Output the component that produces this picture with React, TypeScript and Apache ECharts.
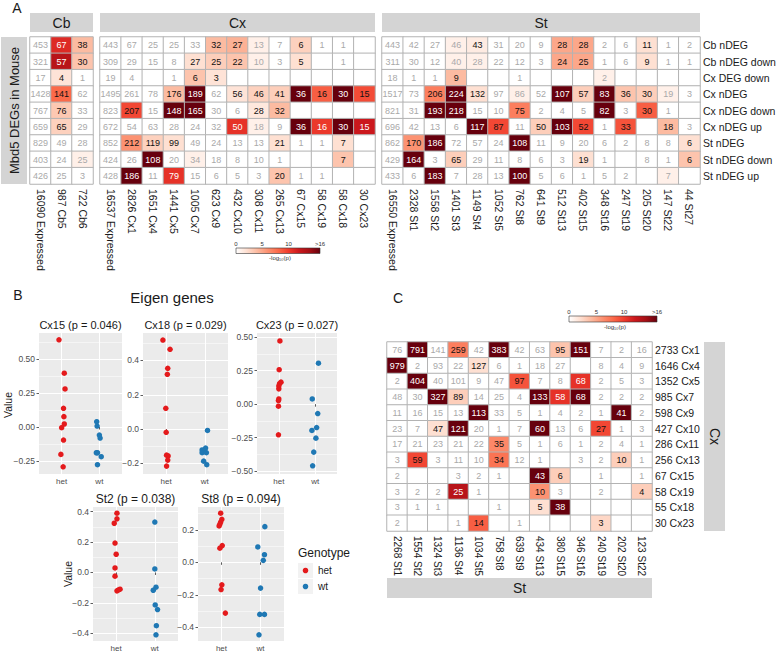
import React, { useEffect, useRef } from 'react';
import * as echarts from 'echarts';

const FONT = "'Liberation Sans', Arial, Helvetica, sans-serif";
const N = null;

// ---------- Panel A ----------
const rowsA = ['Cb nDEG', 'Cb nDEG down', 'Cx DEG down', 'Cx nDEG', 'Cx nDEG down', 'Cx nDEG up', 'St nDEG', 'St nDEG down', 'St nDEG up'];
const colsCb = ['16090 Expressed', '987 Cb5', '722 Cb6'];
const colsCx = ['16537 Expressed', '2826 Cx1', '1651 Cx4', '1441 Cx5', '1005 Cx7', '623 Cx9', '432 Cx10', '308 Cx11', '265 Cx13', '67 Cx15', '58 Cx19', '58 Cx18', '30 Cx23'];
const colsSt = ['16550 Expressed', '2328 St1', '1558 St2', '1401 St3', '1149 St4', '1052 St5', '762 St8', '641 St9', '512 St13', '402 St15', '348 St16', '247 St19', '205 St20', '147 St22', '44 St27'];

const countsCb = [
  [453, 67, 38], [321, 57, 30], [17, 4, 1], [1428, 141, 62], [767, 76, 33],
  [659, 65, 29], [829, 49, 28], [403, 24, 25], [426, 25, 3],
];
const levelsCb = [
  [0, 11, 4], [0, 13, 3.5], [0, 1.8, 0], [0, 8, 0], [0, 3.3, 0],
  [0, 2.8, 0], [0, 0, 0], [0, 0, 1], [0, 0, 0],
];
const countsCx = [
  [443, 67, 25, 25, 33, 32, 27, 13, 7, 6, 1, 1, N],
  [309, 29, 15, 8, 27, 25, 22, 10, 3, 5, N, 1, N],
  [19, 4, N, 1, 6, 3, N, N, N, N, N, N, N],
  [1495, 261, 78, 176, 189, 62, 56, 46, 41, 36, 16, 30, 15],
  [823, 207, 15, 148, 165, 30, 6, 28, 32, N, N, N, N],
  [672, 54, 63, 28, 24, 32, 50, 18, 9, 36, 16, 30, 15],
  [852, 212, 119, 99, 49, 24, 13, 13, 21, 1, 1, 7, N],
  [424, 26, 108, 20, 34, 18, 8, 10, 1, N, N, 7, N],
  [428, 186, 11, 79, 15, 6, 5, 3, 20, 1, 1, N, N],
];
const levelsCx = [
  [0, 0, 0, 0, 0, 4, 4.5, 1, 0, 2.8, 0, 0, 0],
  [0, 0, 0, 0, 2, 3, 3.5, 1, 0, 2, 0, 0, 0],
  [0, 0, 0, 0, 3.5, 1.8, 0, 0, 0, 0, 0, 0, 0],
  [0, 0, 0, 4, 16, 0, 1.8, 2.8, 3, 16, 8.5, 16, 9.3],
  [0, 9.5, 0, 16, 16, 0, 0, 1.5, 4, 0, 0, 0, 0],
  [0, 0, 0, 0, 0, 0, 10.5, 1, 0, 16, 10.2, 16, 12],
  [0, 6, 2.8, 2, 0, 0, 0, 0, 2, 0, 0, 2, 0],
  [0, 0, 16, 0, 1, 0, 0, 0, 0, 0, 0, 3.5, 0],
  [0, 16, 0, 10.5, 0, 0, 0, 0, 3.5, 0, 0, 0, 0],
];
const countsSt = [
  [443, 42, 27, 46, 43, 31, 20, 9, 28, 28, 2, 6, 11, 1, 2],
  [311, 30, 12, 40, 28, 22, 12, 3, 24, 25, 1, 6, 9, 1, 1],
  [18, 1, 1, 9, N, N, 1, N, N, N, 2, N, N, N, N],
  [1517, 73, 206, 224, 132, 97, 86, 52, 107, 57, 83, 36, 30, 19, 3],
  [821, 31, 193, 218, 15, 10, 75, 2, 4, 5, 82, 3, 30, 1, N],
  [696, 42, 13, 6, 117, 87, 11, 50, 103, 52, 1, 33, N, 18, 3],
  [862, 170, 186, 72, 57, 24, 108, 11, 9, 20, 6, 2, 8, 8, 6],
  [429, 164, 3, 65, 29, 11, 8, 6, 3, 19, 1, N, 8, 1, 6],
  [433, 6, 183, 7, 28, 13, 100, 5, 6, 1, 5, 2, N, 7, N],
];
const levelsSt = [
  [0, 0, 0, 1, 1.3, 0, 0, 0, 5, 5, 0, 0, 2, 0, 0],
  [0, 0, 0, 1, 1, 0, 0, 0, 5, 5, 0, 0, 2, 0, 0],
  [0, 0, 0, 4, 0, 0, 0, 0, 0, 0, 1, 0, 0, 0, 0],
  [0, 0, 7, 16, 2, 0, 1, 0, 16, 3, 16, 3.5, 3, 1, 0],
  [0, 0, 16, 16, 0, 0, 7, 0, 0, 0, 16, 0, 8.5, 0, 0],
  [0, 0, 0, 0, 16, 9.5, 0, 3, 16, 9.5, 0, 9, 0, 4, 0],
  [0, 6, 16, 0, 0, 0, 16, 0, 0, 0, 0, 0, 0, 0, 2],
  [0, 16, 0, 3, 0, 0, 0, 0, 0, 2, 0, 0, 0, 0, 3.5],
  [0, 0, 16, 0, 0, 0, 16, 0, 0, 0, 0, 0, 0, 1, 0],
];

// ---------- Panel C ----------
const rowsC = ['2733 Cx1', '1646 Cx4', '1352 Cx5', '985 Cx7', '598 Cx9', '427 Cx10', '286 Cx11', '256 Cx13', '67 Cx15', '58 Cx19', '55 Cx18', '30 Cx23'];
const colsC = ['2268 St1', '1554 St2', '1324 St3', '1136 St4', '1034 St5', '758 St8', '639 St9', '434 St13', '380 St15', '346 St16', '240 St19', '202 St20', '123 St22'];
const countsC = [
  [76, 791, 141, 259, 42, 383, 42, 63, 95, 151, 7, 2, 16],
  [979, 2, 93, 22, 127, 6, 1, 18, 27, N, 8, 4, 9],
  [2, 404, 40, 101, 9, 47, 97, 7, 8, 68, 2, 5, 3],
  [48, 30, 327, 89, 14, 25, 4, 133, 58, 68, 2, 2, 2],
  [11, 16, 15, 13, 113, 33, 5, 1, 4, 2, 1, 41, 2],
  [23, 7, 47, 121, 20, 1, 7, 60, 13, 6, 27, 1, 3],
  [17, 21, 23, 21, 22, 35, 5, 1, 6, 1, 2, 4, 1],
  [3, 59, 3, 11, 10, 34, 12, 1, N, 3, 2, 10, 1],
  [2, N, N, 3, 2, 1, N, 43, 6, N, 1, N, 1],
  [3, 2, 2, 25, 1, N, N, 10, 3, N, 2, N, 4],
  [3, 1, 1, N, N, 1, N, 5, 38, N, N, N, N],
  [2, N, N, 1, 14, N, 1, N, N, N, 3, N, N],
];
const levelsC = [
  [0, 16, 0, 7, 0, 16, 0, 0, 3.5, 16, 0, 0, 0],
  [16, 0, 0, 0, 2, 0, 0, 0, 0, 0, 0, 0, 0],
  [0, 16, 0, 0, 0, 0, 9, 0, 0, 10.5, 0, 0, 0],
  [0, 0, 16, 3, 0, 0, 0, 16, 10.5, 16, 0, 0, 0],
  [0, 0, 0, 0, 16, 0, 0, 0, 0, 0, 0, 16, 0],
  [0, 0, 2, 16, 0, 0, 0, 16, 0, 0, 9.5, 0, 0],
  [0, 0, 0, 0, 0, 6.5, 0, 0, 0, 0, 0, 0, 0],
  [0, 9.5, 0, 0, 0, 7.5, 0, 0, 0, 0, 0, 3, 0],
  [0, 0, 0, 0, 0, 0, 0, 16, 3, 0, 0, 0, 0],
  [0, 0, 0, 13, 0, 0, 0, 6, 0, 0, 0, 0, 3],
  [0, 0, 0, 0, 0, 0, 0, 2, 16, 0, 0, 0, 0],
  [0, 0, 0, 0, 8.5, 0, 0, 0, 0, 0, 2.5, 0, 0],
];

const scaleTicks = ['0', '5', '10', '>16'];
const scaleTickVals = [0, 5, 10, 16];

// ---------- Panel B (eigen genes) ----------
const genotypes = ['het', 'wt'];
const cx15Het = [0.64, 0.395, 0.279, 0.137, 0.076, 0.022, -0.005, -0.096, -0.201, -0.292];
const cx15HetJit = [-0.07, 0.07, 0.09, 0.05, 0.06, 0.07, 0, 0.05, -0.02, 0.04];
const cx15Wt = [0.039, 0.007, -0.059, -0.081, -0.189, -0.189, -0.218, -0.277];
const cx15WtJit = [-0.07, -0.06, 0, 0.02, -0.08, -0.05, 0.05, -0.05];
const cx15Ticks = [-0.25, 0, 0.25, 0.5];

const cx18Het = [0.519, 0.465, 0.354, 0.319, 0.121, -0.019, -0.152, -0.157, -0.181, -0.216];
const cx18HetJit = [-0.085, 0.1, 0.04, 0.03, -0.01, 0, 0.01, 0.05, 0.04, 0.01];
const cx18Wt = [-0.008, -0.111, -0.122, -0.13, -0.138, -0.138, -0.187, -0.208];
const cx18WtJit = [0.07, 0.02, -0.07, -0.03, -0.07, 0.04, -0.03, 0.05];
const cx18Ticks = [-0.2, 0, 0.2, 0.4];

const cx23Het = [0.471, 0.257, 0.164, 0.153, 0.136, 0.114, 0.039, 0.027, -0.015, -0.228];
const cx23HetJit = [0.03, 0.01, 0.06, 0.02, 0, 0, 0, -0.01, -0.01, -0.01];
const cx23Wt = [0.305, 0.039, -0.07, -0.196, -0.174, -0.253, -0.357, -0.459];
const cx23WtJit = [0.09, -0.08, 0.07, -0.09, 0.04, 0.02, -0.04, -0.07];
const cx23Ticks = [-0.5, -0.25, 0, 0.25, 0.5];

const st2Het = [0.39, 0.353, 0.324, 0.194, 0.12, 0.03, -0.024, -0.121, -0.115, -0.11];
const st2HetJit = [0.02, 0.02, -0.05, -0.03, 0, -0.03, -0.03, 0.02, 0.06, 0.1];
const st2Wt = [0.332, 0.023, -0.097, -0.117, -0.214, -0.244, -0.35, -0.41];
const st2WtJit = [0, 0, 0.03, -0.04, 0.01, 0.07, 0.04, 0.03];
const st2Ticks = [-0.4, -0.2, 0, 0.2, 0.4];

const st8Het = [0.303, 0.265, 0.248, 0.236, 0.224, 0.103, 0.087, -0.139, -0.168, -0.313];
const st8HetJit = [-0.02, 0.01, -0.02, -0.04, -0.06, 0.02, -0.04, 0.01, -0.01, 0.1];
const st8Wt = [0.22, 0.095, 0.047, 0.012, -0.159, -0.321, -0.321, -0.447];
const st8WtJit = [0.11, -0.07, 0.1, 0.07, 0, -0.02, 0.1, -0.04];
const st8Ticks = [-0.4, -0.2, 0, 0.2];

const plotTitles = ['Cx15 (p = 0.046)', 'Cx18 (p = 0.029)', 'Cx23 (p = 0.027)', 'St2 (p = 0.038)', 'St8 (p = 0.094)'];

// ---------- styles ----------
const REDS = ['#ffffff', '#fee0d2', '#fcbba1', '#fc9272', '#fb6a4a', '#ef3b2c', '#cb181d', '#a50f15', '#67000d'];
const HET = '#e41a1c';
const WT = '#1f78b4';
const STRIP = '#d4d4d4';
const PANEL = '#ebebeb';
const INK = '#1a1a1a';

function heatSeries(counts: (number | null)[][], levels: number[][], gi: number) {
  const data: any[] = [];
  counts.forEach((row, r) =>
    row.forEach((v, c) => {
      const lv = levels[r][c];
      data.push({
        value: [c, r, lv],
        count: v,
        label: { color: lv < 1.25 ? '#a9a9a9' : lv >= 10 ? '#ffffff' : '#111111' },
      });
    })
  );
  return {
    type: 'heatmap',
    xAxisIndex: gi,
    yAxisIndex: gi,
    data,
    label: {
      show: true,
      fontSize: 9,
      fontFamily: FONT,
      formatter: (p: any) => (p.data.count == null ? '' : String(p.data.count)),
    },
    itemStyle: { borderColor: '#b3b3b3', borderWidth: 1 },
    emphasis: { disabled: true },
    silent: true,
  };
}

function heatX(gi: number, cats: string[], fontSize: number) {
  return {
    gridIndex: gi, type: 'category', data: cats, position: 'bottom',
    axisLine: { show: false }, axisTick: { show: false }, splitLine: { show: false }, splitArea: { show: false },
    axisLabel: { rotate: -90, fontSize, color: INK, margin: 5, fontFamily: FONT, interval: 0 },
  };
}
function heatY(gi: number, cats: string[], show: boolean, fontSize: number) {
  return {
    gridIndex: gi, type: 'category', data: cats, inverse: true, position: 'right',
    axisLine: { show: false }, axisTick: { show: false }, splitLine: { show: false }, splitArea: { show: false },
    axisLabel: { show, fontSize, color: INK, margin: 3, fontFamily: FONT, interval: 0 },
  };
}

const fmt = (dec: number) => (v: number) => (v < 0 ? '\u2212' : '') + Math.abs(v).toFixed(dec);
const minorsOf = (ticks: number[], step: number) => {
  const out: number[] = [];
  ticks.forEach((t) => { out.push(t - step / 2); });
  out.push(ticks[ticks.length - 1] + step / 2);
  return out;
};

const txt = (x: number, y: number, text: string, size: number, o: any = {}) => ({
  type: 'text', x, y, rotation: o.rot || 0, silent: true, z: 10,
  style: { text, fontSize: size, fontFamily: FONT, fill: o.color || INK, align: o.align || 'center', verticalAlign: o.va || 'middle' },
});
const box = (x: number, y: number, w: number, h: number, fill: any, stroke?: string) => ({
  type: 'rect', silent: true, z: 5, shape: { x, y, width: w, height: h },
  style: { fill, stroke: stroke || null, lineWidth: stroke ? 0.6 : 0 },
});

function colorbar(x: number, y: number, w: number, h: number) {
  const grad = new echarts.graphic.LinearGradient(0, 0, 1, 0, REDS.map((c, i) => ({ offset: i / (REDS.length - 1), color: c })));
  const els: any[] = [box(x, y, w, h, grad, '#333333')];
  scaleTicks.forEach((t, i) => {
    els.push(txt(x + (scaleTickVals[i] / 16) * w, y - 4, t, 6, { color: '#333' }));
  });
  els.push(txt(x + w / 2 + 2, y + h + 4.5, '-log\u2081\u2080(p)', 6, { color: '#333' }));
  return els;
}

function buildOption() {
  const grids: any[] = [
    { left: 30, top: 37, width: 63, height: 147 },
    { left: 100, top: 37, width: 275, height: 147 },
    { left: 382, top: 37, width: 318, height: 147 },
    { left: 387, top: 342, width: 265, height: 189 },
  ];
  const xAxis: any[] = [heatX(0, colsCb, 10.5), heatX(1, colsCx, 10.5), heatX(2, colsSt, 10.5), heatX(3, colsC, 10)];
  const yAxis: any[] = [heatY(0, rowsA, false, 10.5), heatY(1, rowsA, false, 10.5), heatY(2, rowsA, true, 10.5), heatY(3, rowsC, true, 10.5)];
  const series: any[] = [
    heatSeries(countsCb, levelsCb, 0),
    heatSeries(countsCx, levelsCx, 1),
    heatSeries(countsSt, levelsSt, 2),
    heatSeries(countsC, levelsC, 3),
  ];

  const plots = [
    { het: cx15Het, hj: cx15HetJit, wt: cx15Wt, wj: cx15WtJit, ticks: cx15Ticks, step: 0.25, dec: 2, range: [-0.345, 0.69], g: { left: 39, top: 333, width: 83, height: 141 } },
    { het: cx18Het, hj: cx18HetJit, wt: cx18Wt, wj: cx18WtJit, ticks: cx18Ticks, step: 0.2, dec: 1, range: [-0.262, 0.56], g: { left: 143, top: 333, width: 85, height: 141 } },
    { het: cx23Het, hj: cx23HetJit, wt: cx23Wt, wj: cx23WtJit, ticks: cx23Ticks, step: 0.25, dec: 2, range: [-0.52, 0.53], g: { left: 257, top: 333, width: 80, height: 141 } },
    { het: st2Het, hj: st2HetJit, wt: st2Wt, wj: st2WtJit, ticks: st2Ticks, step: 0.2, dec: 1, range: [-0.451, 0.431], g: { left: 93, top: 507, width: 85, height: 134 } },
    { het: st8Het, hj: st8HetJit, wt: st8Wt, wj: st8WtJit, ticks: st8Ticks, step: 0.2, dec: 1, range: [-0.485, 0.341], g: { left: 198, top: 507, width: 86, height: 134 } },
  ];

  const graphic: any[] = [];

  plots.forEach((p, k) => {
    const gi = grids.length;
    grids.push({ ...p.g, show: true, backgroundColor: PANEL, borderWidth: 0 });
    xAxis.push({
      gridIndex: gi, type: 'value', min: 0.4, max: 2.6,
      axisLine: { show: false },
      axisTick: { show: true, length: 2.5, lineStyle: { color: '#333', width: 0.8 }, customValues: [1, 2] },
      axisLabel: { customValues: [1, 2], formatter: (v: number) => genotypes[Math.round(v) - 1], fontSize: 8, color: '#4d4d4d', margin: 3, fontFamily: FONT },
      splitLine: { show: true, lineStyle: { color: '#ffffff', width: 1 } },
    });
    const yi = yAxis.length;
    yAxis.push({
      gridIndex: gi, type: 'value', min: p.range[0], max: p.range[1], position: 'left',
      axisLine: { show: false },
      axisTick: { show: true, length: 2.5, lineStyle: { color: '#333', width: 0.8 }, customValues: p.ticks },
      axisLabel: { customValues: p.ticks, formatter: fmt(p.dec), fontSize: 8.5, color: '#4d4d4d', margin: 4, fontFamily: FONT },
      splitLine: { show: true, lineStyle: { color: '#ffffff', width: 1 } },
    });
    const minors = minorsOf(p.ticks, p.step).filter((m) => m > p.range[0] && m < p.range[1]);
    yAxis.push({
      gridIndex: gi, type: 'value', min: p.range[0], max: p.range[1], position: 'left',
      axisLine: { show: false },
      axisTick: { show: false, customValues: minors },
      axisLabel: { show: false, customValues: minors },
      splitLine: { show: true, lineStyle: { color: '#ffffff', width: 0.5 } },
    });
    series.push({
      type: 'scatter', xAxisIndex: gi, yAxisIndex: yi, symbolSize: 5.5, silent: true, z: 3,
      itemStyle: { color: HET, opacity: 1 },
      data: p.het.map((v, i) => [1 + p.hj[i], v]),
    });
    series.push({
      type: 'scatter', xAxisIndex: gi, yAxisIndex: yi, symbolSize: 5.5, silent: true, z: 3,
      itemStyle: { color: WT, opacity: 1 },
      data: p.wt.map((v, i) => [2 + p.wj[i], v]),
    });
    const cx = p.g.left + p.g.width / 2;
    graphic.push(txt(cx, p.g.top - 8, plotTitles[k], k < 3 ? 11 : 12));
  });

  // Panel A decorations
  graphic.push(txt(17, 8, 'A', 14));
  graphic.push(box(30, 13, 63, 19, STRIP), txt(61.5, 22.5, 'Cb', 14));
  graphic.push(box(100, 13, 275, 19, STRIP), txt(237.5, 22.5, 'Cx', 14));
  graphic.push(box(382, 13, 318, 19, STRIP), txt(541, 22.5, 'St', 14));
  graphic.push(box(1, 37, 26, 147, STRIP), txt(14, 110.5, 'Mbd5 DEGs in Mouse', 13, { rot: Math.PI / 2 }));
  graphic.push(...colorbar(236, 248, 84, 5.5));

  // Panel B decorations
  graphic.push(txt(18, 295, 'B', 14));
  graphic.push(txt(172, 297, 'Eigen genes', 15));
  graphic.push(txt(8, 405, 'Value', 10.5, { rot: Math.PI / 2 }));
  graphic.push(txt(68, 574, 'Value', 10.5, { rot: Math.PI / 2 }));
  graphic.push(txt(298, 553, 'Genotype', 12, { align: 'left' }));
  graphic.push(box(298, 563, 15, 15, '#f2f2f2'), box(298, 579, 15, 15, '#f2f2f2'));
  graphic.push({ type: 'circle', silent: true, z: 6, shape: { cx: 305.5, cy: 570.5, r: 2.8 }, style: { fill: HET } });
  graphic.push({ type: 'circle', silent: true, z: 6, shape: { cx: 305.5, cy: 586.5, r: 2.8 }, style: { fill: WT } });
  graphic.push(txt(318, 570.5, genotypes[0], 10, { align: 'left' }));
  graphic.push(txt(318, 586.5, genotypes[1], 10, { align: 'left' }));

  // Panel C decorations
  graphic.push(txt(398, 298, 'C', 14));
  graphic.push(...colorbar(569, 316, 88, 6));
  graphic.push(box(704, 342, 21, 189, STRIP), txt(714.5, 436.5, 'Cx', 14, { rot: -Math.PI / 2 }));
  graphic.push(box(387, 578, 265, 20, STRIP), txt(519.5, 588, 'St', 14));

  return {
    animation: false,
    backgroundColor: '#ffffff',
    textStyle: { fontFamily: FONT },
    grid: grids.map((g) => ({ show: false, ...g, containLabel: false, outerBoundsMode: 'none' })),
    xAxis,
    yAxis,
    visualMap: [{
      type: 'continuous', show: false, min: 0, max: 16, dimension: 2, seriesIndex: [0, 1, 2, 3],
      inRange: { color: REDS },
    }],
    series,
    graphic,
  };
}

export default function App() {
  const ref = useRef<HTMLDivElement>(null);
  useEffect(() => {
    const chart = echarts.init(ref.current as HTMLDivElement, null, { renderer: 'svg' });
    chart.setOption(buildOption() as any);
    return () => chart.dispose();
  }, []);
  return (
    <div
      ref={ref}
      style={{ position: 'absolute', left: 0, top: 0, width: 778, height: 654, background: '#ffffff' }}
    />
  );
}
